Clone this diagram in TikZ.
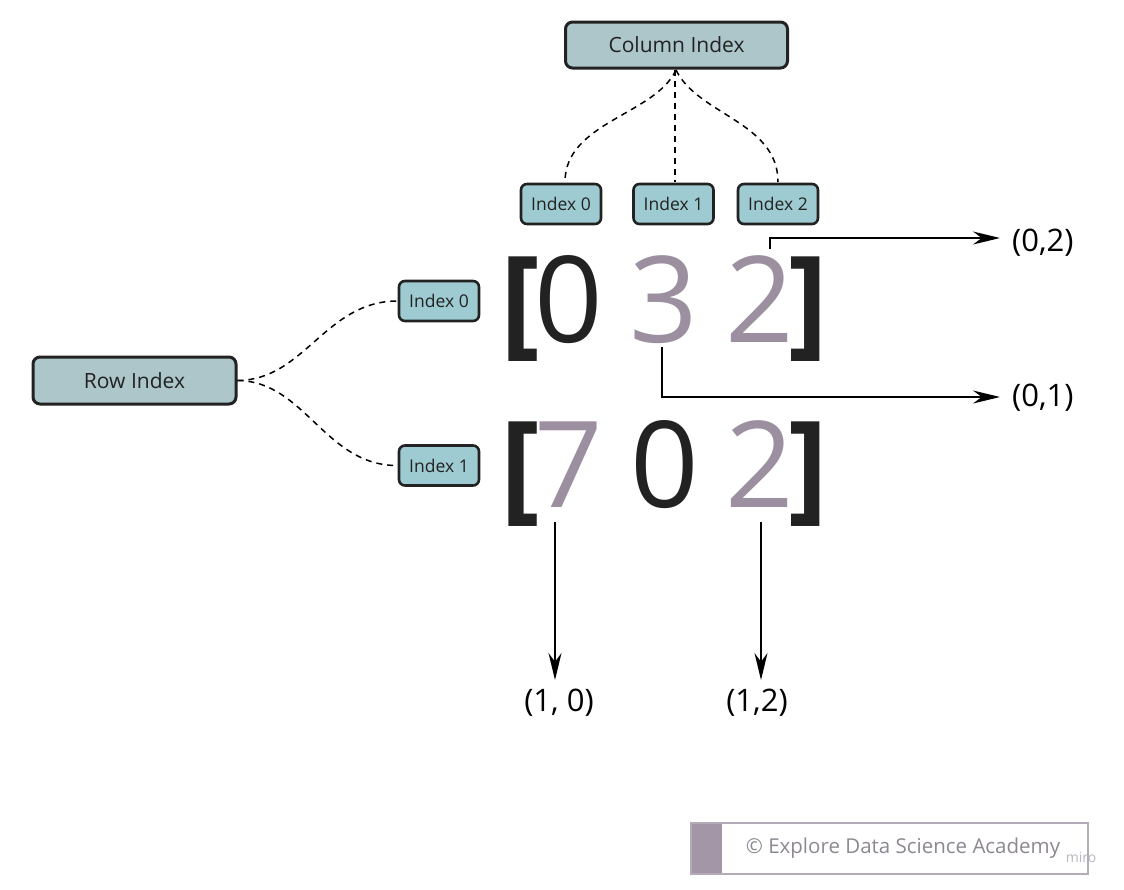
\documentclass[tikz,border=0pt]{standalone}
\usepackage{fontspec}
\setmainfont{Open Sans}
\usetikzlibrary{arrows.meta}
\definecolor{boxfill}{HTML}{ADC6CA}
\definecolor{smallfill}{HTML}{9ECBD1}
\definecolor{digitgrey}{HTML}{9B8FA0}
\definecolor{edgecol}{HTML}{222222}
\definecolor{wmgrey}{HTML}{A396A6}
\definecolor{wmtext}{HTML}{8E8892}
\begin{document}
\begin{tikzpicture}[x=1pt,y=-1pt,
  bigbox/.style={draw=edgecol, line width=3pt, rounded corners=7pt, fill=boxfill,
    minimum width=222pt, minimum height=46pt, inner sep=0pt, text=edgecol,
    font=\fontsize{21}{24}\selectfont},
  idxbox/.style={draw=edgecol, line width=2.6pt, rounded corners=6pt, fill=smallfill,
    minimum width=80pt, minimum height=40pt, inner sep=0pt, text=edgecol,
    font=\fontsize{17.5}{20}\selectfont},
  dig/.style={inner sep=0pt, font=\fontsize{120}{120}\selectfont, anchor=base},
  brk/.style={inner sep=0pt, font=\fontsize{120}{120}\selectfont\bfseries, anchor=base, text=edgecol},
  lbl/.style={inner sep=0pt, font=\fontsize{31}{34}\selectfont, text=black},
  dashcon/.style={dashed, dash pattern=on 6pt off 5pt, line width=1.5pt, black},
  arr/.style={line width=1.5pt, -{Stealth[length=27pt, width=13pt]}}
]
\useasboundingbox (0,0) rectangle (1124,889);

% boxes
\node[bigbox] (col) at (676.5,45) {Column Index};
\node[idxbox] (c0) at (561,204) {Index 0};
\node[idxbox] (c1) at (673.5,204) {Index 1};
\node[idxbox] (c2) at (778,204) {Index 2};
\node[bigbox, minimum width=203pt, minimum height=47pt] (row) at (134.5,380.5) {Row Index};
\node[idxbox] (r0) at (439,301) {Index 0};
\node[idxbox] (r1) at (439,465.5) {Index 1};

% dashed connectors
\coordinate (ctop) at (676,70);
\coordinate (c0e) at (565,182);
\coordinate (c1e) at (675,182);
\coordinate (c2e) at (778,182);
\draw[dashcon] (ctop) .. controls (655,115) and (565,122) .. (c0e);
\draw[dashcon] (675,70) -- (c1e);
\draw[dashcon] (ctop) .. controls (698,115) and (778,122) .. (c2e);
\draw[dashcon] (row.east) .. controls (305,380) and (325,301) .. (r0.west);
\draw[dashcon] (row.east) .. controls (305,381) and (325,466) .. (r1.west);

% matrix rows
\node[brk] (lb1) at (520,342) {[};
\node[dig, text=edgecol] (a00) at (569,342) {0};
\node[dig, text=digitgrey] (a01) at (664,342) {3};
\node[dig, text=digitgrey] (a02) at (760,342) {2};
\node[brk] (rb1) at (808,342) {]};

\node[brk] (lb2) at (520,507) {[};
\node[dig, text=digitgrey] (a10) at (569,507) {7};
\node[dig, text=edgecol] (a11) at (665,507) {0};
\node[dig, text=digitgrey] (a12) at (760,507) {2};
\node[brk] (rb2) at (808,507) {]};

% labels
\node[lbl, anchor=west] (l02) at (1012,243) {(0,2)};
\node[lbl, anchor=west] (l01) at (1012,398) {(0,1)};
\node[lbl] (l10) at (559,703) {(1, 0)};
\node[lbl] (l12) at (757,703) {(1,2)};

% arrows
\coordinate (s02) at (770,249);
\coordinate (k02) at (770,238);
\coordinate (t02) at (1000,238);
\draw[arr] (s02) -- (k02) -- (t02);
\coordinate (s01) at (662,347);
\coordinate (k01) at (662,397);
\coordinate (t01) at (1000,397);
\draw[arr] (s01) -- (k01) -- (t01);
\coordinate (s10) at (555,522);
\coordinate (t10) at (555,680);
\draw[arr] (s10) -- (t10);
\coordinate (s12) at (761,522);
\coordinate (t12) at (761,680);
\draw[arr] (s12) -- (t12);

% watermark
\draw[wmgrey!80, line width=2pt, fill=white] (691,823) rectangle (1088,874);
\fill[wmgrey] (692,824) rectangle (722,873);
\node[inner sep=0pt, text=wmtext, font=\fontsize{20.5}{22}\selectfont] (wm) at (903,848) {© Explore Data Science Academy};
\node[inner sep=0pt, text=wmtext!60, font=\fontsize{14}{15}\selectfont] (miro) at (1081,857) {miro};
\end{tikzpicture}
\end{document}
